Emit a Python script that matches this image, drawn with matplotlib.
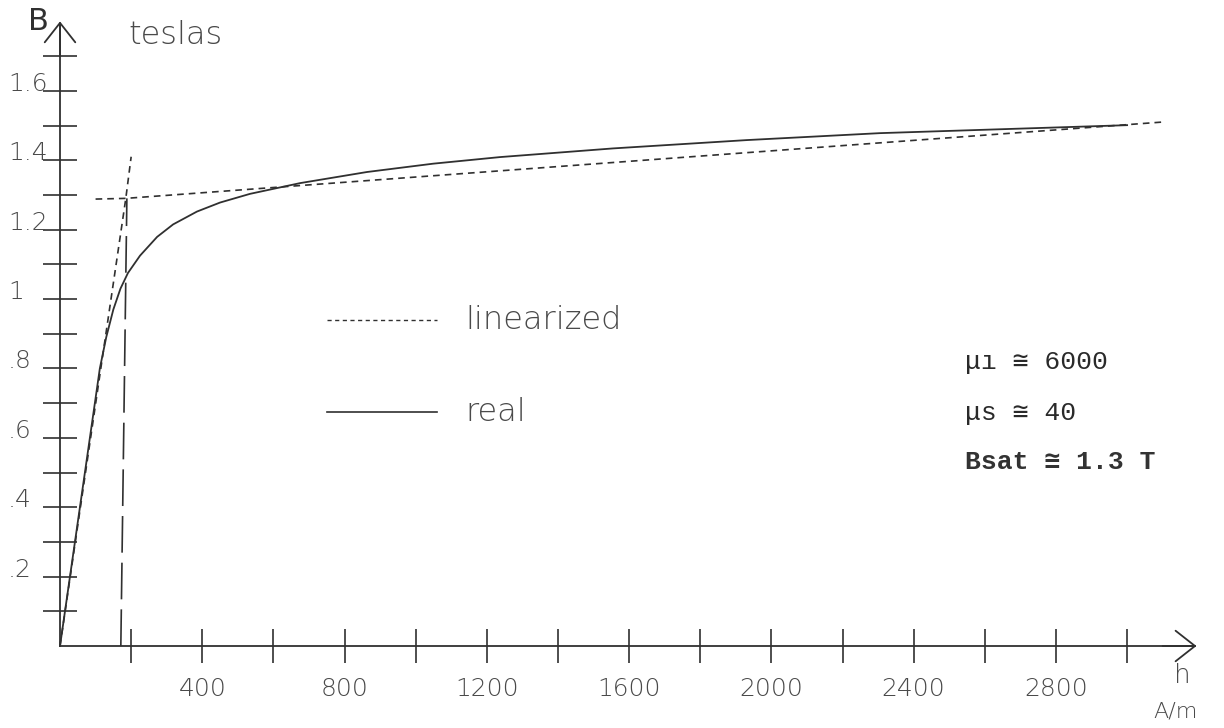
#!/usr/bin/env python3
"""B-H magnetisation curve: real curve vs. two-segment linearized model."""

import matplotlib

matplotlib.use("Agg")
import matplotlib.pyplot as plt

# real B(H) curve (H in A/m, B in T)
real_h = [0, 28, 56, 84, 112, 130, 150, 170, 191, 225, 273, 318, 385, 450,
          534, 675, 863, 1049, 1237, 1555, 1931, 2305, 3000]
real_b = [0, 0.2, 0.4, 0.6, 0.8, 0.89, 0.97, 1.03, 1.075, 1.125, 1.179,
          1.215, 1.252, 1.278, 1.303, 1.334, 1.366, 1.39, 1.409, 1.434, 1.458,
          1.478, 1.501]

# linearized model: steep segment (mu_i) and saturation segment (mu_s)
steep_h = [0, 185, 200]
steep_b = [0, 1.29, 1.41]
sat_h = [100, 185, 3100]
sat_b = [1.288, 1.29, 1.51]

# saturation field marker
hsat_h = [171, 188]
hsat_b = [0, 1.29]

x_ticks = list(range(200, 3001, 200))
x_labels = list(range(400, 2801, 400))
y_ticks = [round(0.1 * i, 1) for i in range(1, 18)]
y_labels = [(0.2, ".2"), (0.4, ".4"), (0.6, ".6"), (0.8, ".8"), (1.0, "1"),
            (1.2, "1.2"), (1.4, "1.4"), (1.6, "1.6")]

INK = "#303030"
TEXT = "#4a4a4a"
PLOT_FONT = ["DejaVu Sans"]
MONO = ["Liberation Mono", "DejaVu Sans Mono"]

fig = plt.figure(figsize=(12.24, 7.28), dpi=100)
ax = fig.add_axes([0, 0, 1, 1])
ax.set_xlim(-168.7, 3272.4)
ax.set_ylim(-0.2363, 1.8617)

for side in ["top", "right"]:
    ax.spines[side].set_visible(False)
ax.spines["left"].set_position(("data", 0))
ax.spines["bottom"].set_position(("data", 0))
ax.spines["left"].set_bounds(0, 1.79)
ax.spines["bottom"].set_bounds(0, 3190)
for side in ["left", "bottom"]:
    ax.spines[side].set_color(INK)
    ax.spines[side].set_linewidth(1.3)

ax.set_xticks(x_ticks)
ax.set_yticks(y_ticks)
ax.tick_params(direction="inout", length=24, width=1.2, color=INK,
               labelbottom=False, labelleft=False)

# arrow heads on the axes
head = dict(arrowstyle="->,head_length=0.7,head_width=0.55", lw=1.3,
            color=INK, mutation_scale=20, shrinkA=0, shrinkB=0)
ax.annotate("", xy=(0, 1.80), xytext=(0, 1.70), arrowprops=head)
ax.annotate("", xy=(3195, 0), xytext=(3100, 0), arrowprops=head)

# curves
ax.plot(real_h, real_b, color=INK, lw=1.3, solid_joinstyle="round")
ax.plot(steep_h, steep_b, color=INK, lw=1.2, linestyle=(0, (4, 3)))
ax.plot(sat_h, sat_b, color=INK, lw=1.2, linestyle=(0, (4, 3)))
ax.plot(hsat_h, hsat_b, color=INK, lw=1.2, linestyle=(0, (22, 6)))

# legend drawn by hand, like the original
ax.plot([751, 1060], [0.94, 0.94], color=INK, lw=1.0, linestyle=(0, (3, 2.5)))
ax.plot([751, 1060], [0.674, 0.674], color=INK, lw=1.2)
ax.text(1139, 0.94, "linearized", fontsize=23, color=TEXT, va="center",
        family=PLOT_FONT, fontweight="light")
ax.text(1139, 0.674, "real", fontsize=23, color=TEXT, va="center",
        family=PLOT_FONT, fontweight="light")

# tick labels
for value in x_labels:
    ax.text(value, -0.125, str(value), fontsize=18, color=TEXT, ha="center",
            va="center", family=PLOT_FONT, fontweight="light")
for value, label in y_labels:
    ax.text(-146, value + 0.02, label, fontsize=18, color=TEXT, ha="left",
            va="center", family=PLOT_FONT, fontweight="light")

# axis names
ax.text(-62, 1.80, "B", fontsize=22, color=INK, ha="center", va="center",
        family=PLOT_FONT)
ax.text(326, 1.76, "teslas", fontsize=23, color=TEXT, ha="center", va="center",
        family=PLOT_FONT, fontweight="light")
ax.text(3154, -0.085, "h", fontsize=19, color=TEXT, ha="center", va="center",
        family=PLOT_FONT, fontweight="light")
ax.text(3135, -0.19, "A/m", fontsize=16, color=TEXT, ha="center", va="center",
        family=PLOT_FONT, fontweight="light")

# material constants
ax.text(2544, 0.818, "μı ≅ 6000", fontsize=19, color="#2a2a2a", va="center",
        family=MONO)
ax.text(2544, 0.671, "μs ≅ 40", fontsize=19, color="#2a2a2a", va="center",
        family=MONO)
ax.text(2544, 0.530, "Bsat ≅ 1.3 T", fontsize=19, color="#333333",
        va="center", family=MONO, fontweight="bold")

fig.savefig("out.png", dpi=100, facecolor="white")
